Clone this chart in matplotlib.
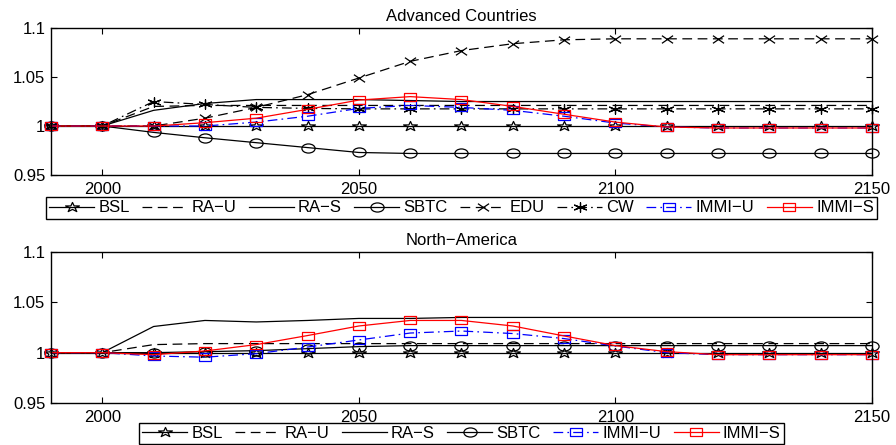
import matplotlib
matplotlib.use('Agg')
import matplotlib.pyplot as plt
from matplotlib.markers import MarkerStyle
from matplotlib.transforms import Affine2D

plt.rcParams.update({
    'font.family': ['Liberation Sans', 'DejaVu Sans'],
    'font.size': 12,
    'axes.linewidth': 1.0,
    'xtick.direction': 'in',
    'ytick.direction': 'in',
    'xtick.top': True,
    'ytick.right': True,
    'xtick.major.size': 4,
    'ytick.major.size': 4,
    'lines.scale_dashes': False,
})

M = '\u2212'

years = [1990, 2000, 2010, 2020, 2030, 2040, 2050, 2060, 2070, 2080,
         2090, 2100, 2110, 2120, 2130, 2140, 2150]

# Advanced Countries
bsl_adv = [1.0, 1.0, 1.0, 1.0, 1.0, 1.0, 1.0, 1.0, 1.0, 1.0, 1.0, 1.0, 1.0, 1.0, 1.0, 1.0, 1.0]
ra_u_adv = [1.0, 1.0, 1.020, 1.021, 1.021, 1.021, 1.021, 1.021, 1.021, 1.021, 1.021, 1.021, 1.021, 1.021, 1.021, 1.021, 1.021]
ra_s_adv = [1.0, 1.0, 1.016, 1.023, 1.027, 1.027, 1.027, 1.026, 1.025, 1.025, 1.025, 1.025, 1.025, 1.025, 1.025, 1.025, 1.025]
sbtc_adv = [1.0, 1.0, 0.9935, 0.988, 0.983, 0.978, 0.973, 0.972, 0.972, 0.972, 0.972, 0.972, 0.972, 0.972, 0.972, 0.972, 0.972]
edu_adv = [1.0, 1.0, 1.0, 1.008, 1.019, 1.032, 1.049, 1.066, 1.077, 1.084, 1.088, 1.089, 1.089, 1.089, 1.089, 1.089, 1.089]
cw_adv = [1.0, 1.0, 1.025, 1.022, 1.019, 1.018, 1.0175, 1.0175, 1.0175, 1.0175, 1.0175, 1.0175, 1.0175, 1.0175, 1.0175, 1.0175, 1.0175]
immi_u_adv = [1.0, 1.0, 1.0, 1.0, 1.004, 1.010, 1.018, 1.021, 1.019, 1.016, 1.010, 1.003, 0.999, 0.998, 0.998, 0.998, 0.998]
immi_s_adv = [1.0, 1.0, 1.0, 1.0034, 1.008, 1.017, 1.0265, 1.030, 1.027, 1.020, 1.012, 1.004, 0.999, 0.998, 0.998, 0.998, 0.998]

# North-America
bsl_na = [1.0, 1.0, 1.0, 1.0, 1.0, 1.0, 1.0, 1.0, 1.0, 1.0, 1.0, 1.0, 1.0, 1.0, 1.0, 1.0, 1.0]
ra_u_na = [1.0, 1.0, 1.008, 1.009, 1.009, 1.009, 1.009, 1.009, 1.009, 1.009, 1.009, 1.009, 1.009, 1.009, 1.009, 1.009, 1.009]
ra_s_na = [1.0, 1.0, 1.026, 1.032, 1.0305, 1.032, 1.034, 1.034, 1.035, 1.035, 1.035, 1.035, 1.035, 1.035, 1.035, 1.035, 1.035]
sbtc_na = [1.0, 1.0, 1.0, 1.001, 1.002, 1.004, 1.006, 1.007, 1.007, 1.007, 1.007, 1.007, 1.007, 1.007, 1.007, 1.007, 1.007]
immi_u_na = [1.0, 1.0, 0.9967, 0.9955, 0.999, 1.0056, 1.0126, 1.0195, 1.0215, 1.019, 1.014, 1.0066, 1.0, 0.998, 0.998, 0.998, 0.998]
immi_s_na = [1.0, 1.0, 0.998, 1.0017, 1.008, 1.017, 1.0265, 1.032, 1.032, 1.0265, 1.0166, 1.007, 1.001, 0.998, 0.998, 0.998, 0.998]

xticks = [2000, 2050, 2100, 2150]
yticks = [0.95, 1.0, 1.05, 1.1]
yticklabels = ['0.95', '1', '1.05', '1.1']


def stretched(m, sx=1.45):
    # the reference image is squeezed vertically, so markers look wide
    ms = MarkerStyle(m)
    return ms.get_path().transformed(ms.get_transform() + Affine2D().scale(sx, 1.0))


DASH = (0, (7, 4))
DASHDOT = (0, (7, 3, 1.2, 3))

styles = {
    'BSL': dict(color='black', ls='-', marker=stretched('*'), ms=10),
    'RA' + M + 'U': dict(color='black', ls=DASH, marker='None'),
    'RA' + M + 'S': dict(color='black', ls='-', marker='None'),
    'SBTC': dict(color='black', ls='-', marker=stretched('o'), ms=9.5),
    'EDU': dict(color='black', ls=DASH, marker=stretched('x'), ms=8),
    'CW': dict(color='black', ls=DASHDOT, marker=stretched((6, 2, 0)), ms=8.5),
    'IMMI' + M + 'U': dict(color='#0000ff', ls=DASHDOT, marker=stretched('s'), ms=8),
    'IMMI' + M + 'S': dict(color='#ff0000', ls='-', marker=stretched('s'), ms=8),
}


def draw(ax, series, title, legend_y):
    for name, vals in series:
        st = styles[name]
        ax.plot(years, vals, color=st['color'], linestyle=st['ls'], marker=st['marker'],
                markersize=st.get('ms', 6), markerfacecolor='none', markeredgecolor=st['color'],
                markeredgewidth=0.9, linewidth=0.9, label=name, clip_on=False)
    ax.set_xlim(1990, 2150)
    ax.set_ylim(0.95, 1.1)
    ax.set_xticks(xticks)
    ax.set_yticks(yticks)
    ax.set_yticklabels(yticklabels)
    ax.tick_params(axis='x', labelsize=12, pad=5)
    ax.tick_params(axis='y', labelsize=12, pad=4)
    ax.set_title(title, fontsize=12, pad=5)
    ax.legend(loc='upper center', bbox_to_anchor=(0.5, legend_y), ncol=len(series),
              numpoints=1, fancybox=False, edgecolor='black', framealpha=1,
              fontsize=12, handlelength=2.7, handletextpad=0.25, columnspacing=0.75,
              borderpad=0.2, borderaxespad=0)


fig = plt.figure(figsize=(8.96, 4.45), dpi=100)
ax1 = fig.add_axes([0.0569, 0.6067, 0.9163, 0.3303])
ax2 = fig.add_axes([0.0569, 0.0944, 0.9163, 0.3393])

draw(ax1, [('BSL', bsl_adv), ('RA' + M + 'U', ra_u_adv), ('RA' + M + 'S', ra_s_adv),
           ('SBTC', sbtc_adv), ('EDU', edu_adv), ('CW', cw_adv),
           ('IMMI' + M + 'U', immi_u_adv), ('IMMI' + M + 'S', immi_s_adv)],
     'Advanced Countries', -0.15)
draw(ax2, [('BSL', bsl_na), ('RA' + M + 'U', ra_u_na), ('RA' + M + 'S', ra_s_na),
           ('SBTC', sbtc_na), ('IMMI' + M + 'U', immi_u_na), ('IMMI' + M + 'S', immi_s_na)],
     'North' + M + 'America', -0.13)

fig.savefig('out.png', dpi=100)
